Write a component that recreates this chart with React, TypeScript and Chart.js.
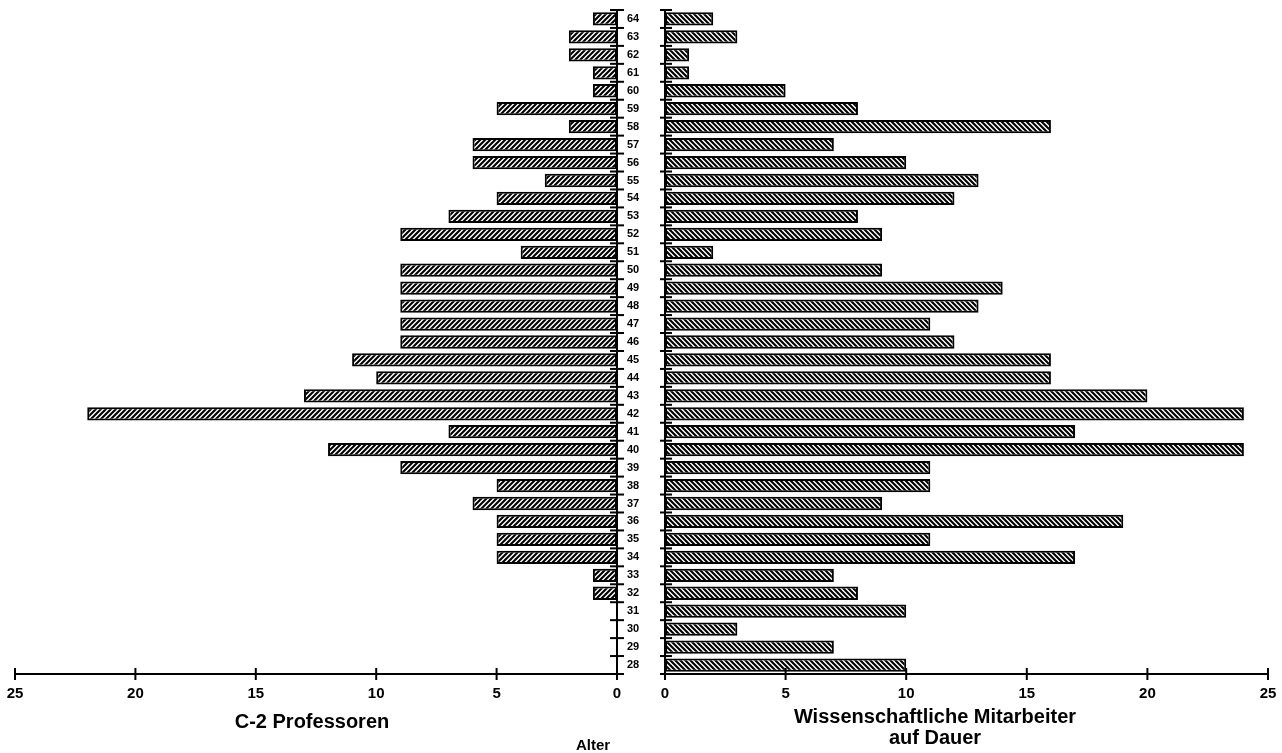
import React, { useEffect, useRef } from "react";
import { Chart, registerables } from "chart.js";

Chart.register(...registerables);

// Ages from 28 (bottom) to 64 (top)
const ages = [28, 29, 30, 31, 32, 33, 34, 35, 36, 37, 38, 39, 40, 41, 42, 43, 44, 45, 46, 47, 48, 49, 50, 51, 52, 53, 54, 55, 56, 57, 58, 59, 60, 61, 62, 63, 64];
const professorenValues = [0, 0, 0, 0, 1, 1, 5, 5, 5, 6, 5, 9, 12, 7, 22, 13, 10, 11, 9, 9, 9, 9, 9, 4, 9, 7, 5, 3, 6, 6, 2, 5, 1, 1, 2, 2, 1];
const mitarbeiterValues = [10, 7, 3, 10, 8, 7, 17, 11, 19, 9, 11, 11, 24, 17, 24, 20, 16, 16, 12, 11, 13, 14, 9, 2, 9, 8, 12, 13, 10, 7, 16, 8, 5, 1, 1, 3, 2];
const xTickValues = [0, 5, 10, 15, 20, 25];
const leftTitle = "C-2 Professoren";
const rightTitle = ["Wissenschaftliche Mitarbeiter", "auf Dauer"];
const centerTitle = "Alter";

const FONT = "'Liberation Sans', Arial, sans-serif";

function makeHatch(direction: "up" | "down"): CanvasPattern | string {
  const s = 5;
  const c = document.createElement("canvas");
  c.width = s;
  c.height = s;
  const ctx = c.getContext("2d");
  if (!ctx) return "#888";
  ctx.fillStyle = "#fff";
  ctx.fillRect(0, 0, s, s);
  ctx.strokeStyle = "#000";
  ctx.lineWidth = 2.1;
  ctx.beginPath();
  if (direction === "up") {
    ctx.moveTo(-1, s + 1);
    ctx.lineTo(s + 1, -1);
    ctx.moveTo(-1, 1);
    ctx.lineTo(1, -1);
    ctx.moveTo(s - 1, s + 1);
    ctx.lineTo(s + 1, s - 1);
  } else {
    ctx.moveTo(-1, -1);
    ctx.lineTo(s + 1, s + 1);
    ctx.moveTo(s - 1, -1);
    ctx.lineTo(s + 1, 1);
    ctx.moveTo(-1, s - 1);
    ctx.lineTo(1, s + 1);
  }
  ctx.stroke();
  const p = ctx.createPattern(c, "repeat");
  return p || "#888";
}

const axesPlugin = (side: "left" | "right") => ({
  id: "customAxes" + side,
  afterDatasetsDraw(chart: any) {
    const { ctx, chartArea } = chart;
    const x = chart.scales.x;
    const y = chart.scales.y;
    ctx.save();
    ctx.strokeStyle = "#000";
    ctx.lineWidth = 2;
    ctx.lineCap = "butt";
    const axisX = side === "left" ? chartArea.right : chartArea.left;
    // vertical axis
    ctx.beginPath();
    ctx.moveTo(axisX, chartArea.top);
    ctx.lineTo(axisX, chartArea.bottom + 6);
    ctx.stroke();
    // category boundary ticks
    for (let i = 0; i <= ages.length; i++) {
      const py = y.getPixelForValue(i - 0.5);
      ctx.beginPath();
      ctx.moveTo(axisX - 7, py);
      ctx.lineTo(axisX + 7, py);
      ctx.stroke();
    }
    // horizontal axis
    ctx.beginPath();
    ctx.moveTo(chartArea.left, chartArea.bottom);
    ctx.lineTo(chartArea.right, chartArea.bottom);
    ctx.stroke();
    for (const v of xTickValues) {
      const px = x.getPixelForValue(v);
      ctx.beginPath();
      ctx.moveTo(px, chartArea.bottom - 6);
      ctx.lineTo(px, chartArea.bottom + 6);
      ctx.stroke();
    }
    ctx.restore();
  },
});

export default function App() {
  const leftRef = useRef<HTMLCanvasElement | null>(null);
  const rightRef = useRef<HTMLCanvasElement | null>(null);

  useEffect(() => {
    if (!leftRef.current || !rightRef.current) return;
    const labels = ages.map(String);

    const commonX = (reverse: boolean) => ({
      type: "linear" as const,
      min: 0,
      max: 25,
      reverse,
      position: "bottom" as const,
      grid: { display: false, drawTicks: true, tickLength: 11 },
      border: { display: false },
      ticks: {
        stepSize: 5,
        padding: 0,
        color: "#000",
        font: { family: FONT, size: 15, weight: "bold" as const },
      },
      afterFit: (scale: any) => {
        scale.height = 79;
      },
    });

    const left = new Chart(leftRef.current, {
      type: "bar",
      data: {
        labels,
        datasets: [
          {
            label: leftTitle,
            data: professorenValues,
            backgroundColor: makeHatch("up") as any,
            borderColor: "#000",
            borderWidth: 2,
            borderSkipped: false,
            barPercentage: 0.74,
            categoryPercentage: 1,
          },
        ],
      },
      options: {
        indexAxis: "y",
        responsive: false,
        animation: false,
        layout: { padding: { left: 15, top: 10, right: 0, bottom: 0 } },
        plugins: { legend: { display: false }, tooltip: { enabled: false } },
        scales: {
          x: commonX(true),
          y: {
            type: "category",
            position: "right",
            reverse: true,
            grid: { display: false, drawTicks: true, tickLength: 10 },
            border: { display: false },
            ticks: {
              padding: 0,
              color: "#000",
              autoSkip: false,
              font: { family: FONT, size: 11, weight: "bold" },
            },
            afterFit: (scale: any) => {
              scale.width = 43;
            },
          },
        },
      },
      plugins: [axesPlugin("left")],
    });

    const right = new Chart(rightRef.current, {
      type: "bar",
      data: {
        labels,
        datasets: [
          {
            label: rightTitle.join(" "),
            data: mitarbeiterValues,
            backgroundColor: makeHatch("down") as any,
            borderColor: "#000",
            borderWidth: 2,
            borderSkipped: false,
            barPercentage: 0.74,
            categoryPercentage: 1,
          },
        ],
      },
      options: {
        indexAxis: "y",
        responsive: false,
        animation: false,
        layout: { padding: { left: 5, top: 10, right: 14, bottom: 0 } },
        plugins: { legend: { display: false }, tooltip: { enabled: false } },
        scales: {
          x: commonX(false),
          y: {
            type: "category",
            position: "left",
            reverse: true,
            display: false,
          },
        },
      },
      plugins: [axesPlugin("right")],
    });

    return () => {
      left.destroy();
      right.destroy();
    };
  }, []);

  const textBase: React.CSSProperties = {
    position: "absolute",
    fontFamily: FONT,
    fontWeight: "bold",
    color: "#000",
    whiteSpace: "nowrap",
    textAlign: "center",
  };

  return (
    <div
      style={{
        position: "absolute",
        left: 0,
        top: 0,
        width: 1282,
        height: 753,
        overflow: "hidden",
        background: "#fff",
      }}
    >
      <canvas
        ref={leftRef}
        width={660}
        height={753}
        style={{ position: "absolute", left: 0, top: 0, display: "block" }}
      />
      <canvas
        ref={rightRef}
        width={622}
        height={753}
        style={{ position: "absolute", left: 660, top: 0, display: "block" }}
      />
      <div style={{ ...textBase, left: 112, width: 400, top: 709, fontSize: 20, lineHeight: "24px" }}>
        {leftTitle}
      </div>
      <div style={{ ...textBase, left: 735, width: 400, top: 706, fontSize: 20, lineHeight: "21px" }}>
        {rightTitle[0]}
        <br />
        {rightTitle[1]}
      </div>
      <div style={{ ...textBase, left: 543, width: 100, top: 735, fontSize: 15, lineHeight: "20px" }}>
        {centerTitle}
      </div>
    </div>
  );
}
